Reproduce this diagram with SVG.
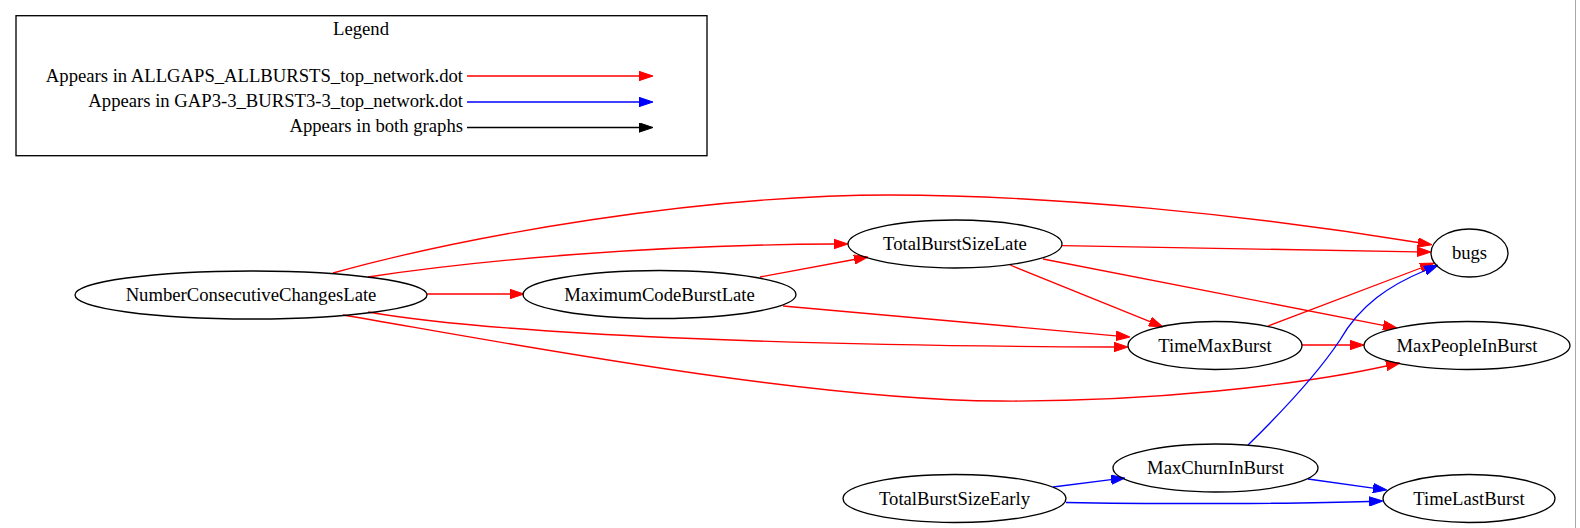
<svg xmlns="http://www.w3.org/2000/svg" width="1580" height="528" viewBox="0 0 1580 528">
<style>
text{font-family:"Liberation Serif","Times New Roman",serif;font-size:18.67px;fill:#000}
.n ellipse{fill:none;stroke:#000;stroke-width:1.33}
.n text{text-anchor:middle}
.e path{fill:none;stroke-width:1.33}
.r{stroke:#ff0000}
.b{stroke:#0000ff}
.k{stroke:#000000}
.lt{text-anchor:end}
</style>
<defs>
<marker id="ar" viewBox="0 0 14 10" refX="0" refY="5" markerWidth="14" markerHeight="10" orient="auto" markerUnits="userSpaceOnUse"><path d="M0,0.3 L14,5 L0,9.7 z" fill="#ff0000" stroke="#ff0000" stroke-width="1"/></marker>
<marker id="ab" viewBox="0 0 14 10" refX="0" refY="5" markerWidth="14" markerHeight="10" orient="auto" markerUnits="userSpaceOnUse"><path d="M0,0.3 L14,5 L0,9.7 z" fill="#0000ff" stroke="#0000ff" stroke-width="1"/></marker>
<marker id="ak" viewBox="0 0 14 10" refX="0" refY="5" markerWidth="14" markerHeight="10" orient="auto" markerUnits="userSpaceOnUse"><path d="M0,0.3 L14,5 L0,9.7 z" fill="#000000" stroke="#000000" stroke-width="1"/></marker>
</defs>
<rect x="0" y="0" width="1580" height="528" fill="#ffffff"/>
<line x1="1575.5" y1="0" x2="1575.5" y2="528" stroke="#a8a8a8" stroke-width="1"/>

<g id="legend">
<rect x="16" y="15.7" width="691" height="140" fill="none" stroke="#000" stroke-width="1.33"/>
<text x="361" y="35" text-anchor="middle">Legend</text>
<text class="lt" x="463" y="81.5">Appears in ALLGAPS_ALLBURSTS_top_network.dot</text>
<text class="lt" x="463" y="107">Appears in GAP3-3_BURST3-3_top_network.dot</text>
<text class="lt" x="463" y="132">Appears in both graphs</text>
<g class="e">
<path class="r" d="M467,76 L639,76" marker-end="url(#ar)"/>
<path class="b" d="M467,102 L639,102" marker-end="url(#ab)"/>
<path class="k" d="M467,127.5 L639,127.5" marker-end="url(#ak)"/>
</g>
</g>

<g id="connectors" class="e">
<path class="r" d="M333,273 C470,235 700,195 890,195 C1050,195 1250,215 1418,242.5" marker-end="url(#ar)"/>
<path class="r" d="M368,277 C480,260 650,245 834,244" marker-end="url(#ar)"/>
<path class="r" d="M427,294 L510,294" marker-end="url(#ar)"/>
<path class="r" d="M368,312 C500,335 800,346 1114,347" marker-end="url(#ar)"/>
<path class="r" d="M343,315 C480,338 800,400 1000,401 C1150,402 1300,385 1386.3,366" marker-end="url(#ar)"/>
<path class="r" d="M760,277 L854.2,259.5" marker-end="url(#ar)"/>
<path class="r" d="M783,306 L1116,335.8" marker-end="url(#ar)"/>
<path class="r" d="M1062,245.7 L1417,251.8" marker-end="url(#ar)"/>
<path class="r" d="M1010,265 L1150,321.7" marker-end="url(#ar)"/>
<path class="r" d="M1043,259 L1383.3,325.3" marker-end="url(#ar)"/>
<path class="r" d="M1302,345 L1350,345" marker-end="url(#ar)"/>
<path class="r" d="M1268,326 L1420.9,268" marker-end="url(#ar)"/>
<path class="b" d="M1248,445 C1292,402 1320,370 1340,340 C1360,305 1390,285 1425.1,270.5" marker-end="url(#ab)"/>
<path class="b" d="M1053,487 L1111.1,479.7" marker-end="url(#ab)"/>
<path class="b" d="M1066,502.5 C1150,504 1300,504 1369,501.5" marker-end="url(#ab)"/>
<path class="b" d="M1308,479 L1373.1,488.1" marker-end="url(#ab)"/>
</g>

<g id="NumberConsecutiveChangesLate" class="n"><ellipse cx="251" cy="295" rx="176" ry="24"/><text x="251" y="301">NumberConsecutiveChangesLate</text></g>
<g id="MaximumCodeBurstLate" class="n"><ellipse cx="659.5" cy="294.5" rx="136.5" ry="24"/><text x="659.5" y="300.5">MaximumCodeBurstLate</text></g>
<g id="TotalBurstSizeLate" class="n"><ellipse cx="955" cy="244" rx="107" ry="24"/><text x="955" y="250">TotalBurstSizeLate</text></g>
<g id="bugs" class="n"><ellipse cx="1469.5" cy="253" rx="38.5" ry="24"/><text x="1469.5" y="259">bugs</text></g>
<g id="TimeMaxBurst" class="n"><ellipse cx="1215" cy="345.5" rx="87" ry="24"/><text x="1215" y="351.5">TimeMaxBurst</text></g>
<g id="MaxPeopleInBurst" class="n"><ellipse cx="1467" cy="345.5" rx="103" ry="24"/><text x="1467" y="351.5">MaxPeopleInBurst</text></g>
<g id="MaxChurnInBurst" class="n"><ellipse cx="1215.5" cy="468" rx="102.5" ry="24"/><text x="1215.5" y="474">MaxChurnInBurst</text></g>
<g id="TotalBurstSizeEarly" class="n"><ellipse cx="954.5" cy="498.5" rx="111.5" ry="24"/><text x="954.5" y="504.5">TotalBurstSizeEarly</text></g>
<g id="TimeLastBurst" class="n"><ellipse cx="1469" cy="498.5" rx="86" ry="24"/><text x="1469" y="504.5">TimeLastBurst</text></g>
</svg>
